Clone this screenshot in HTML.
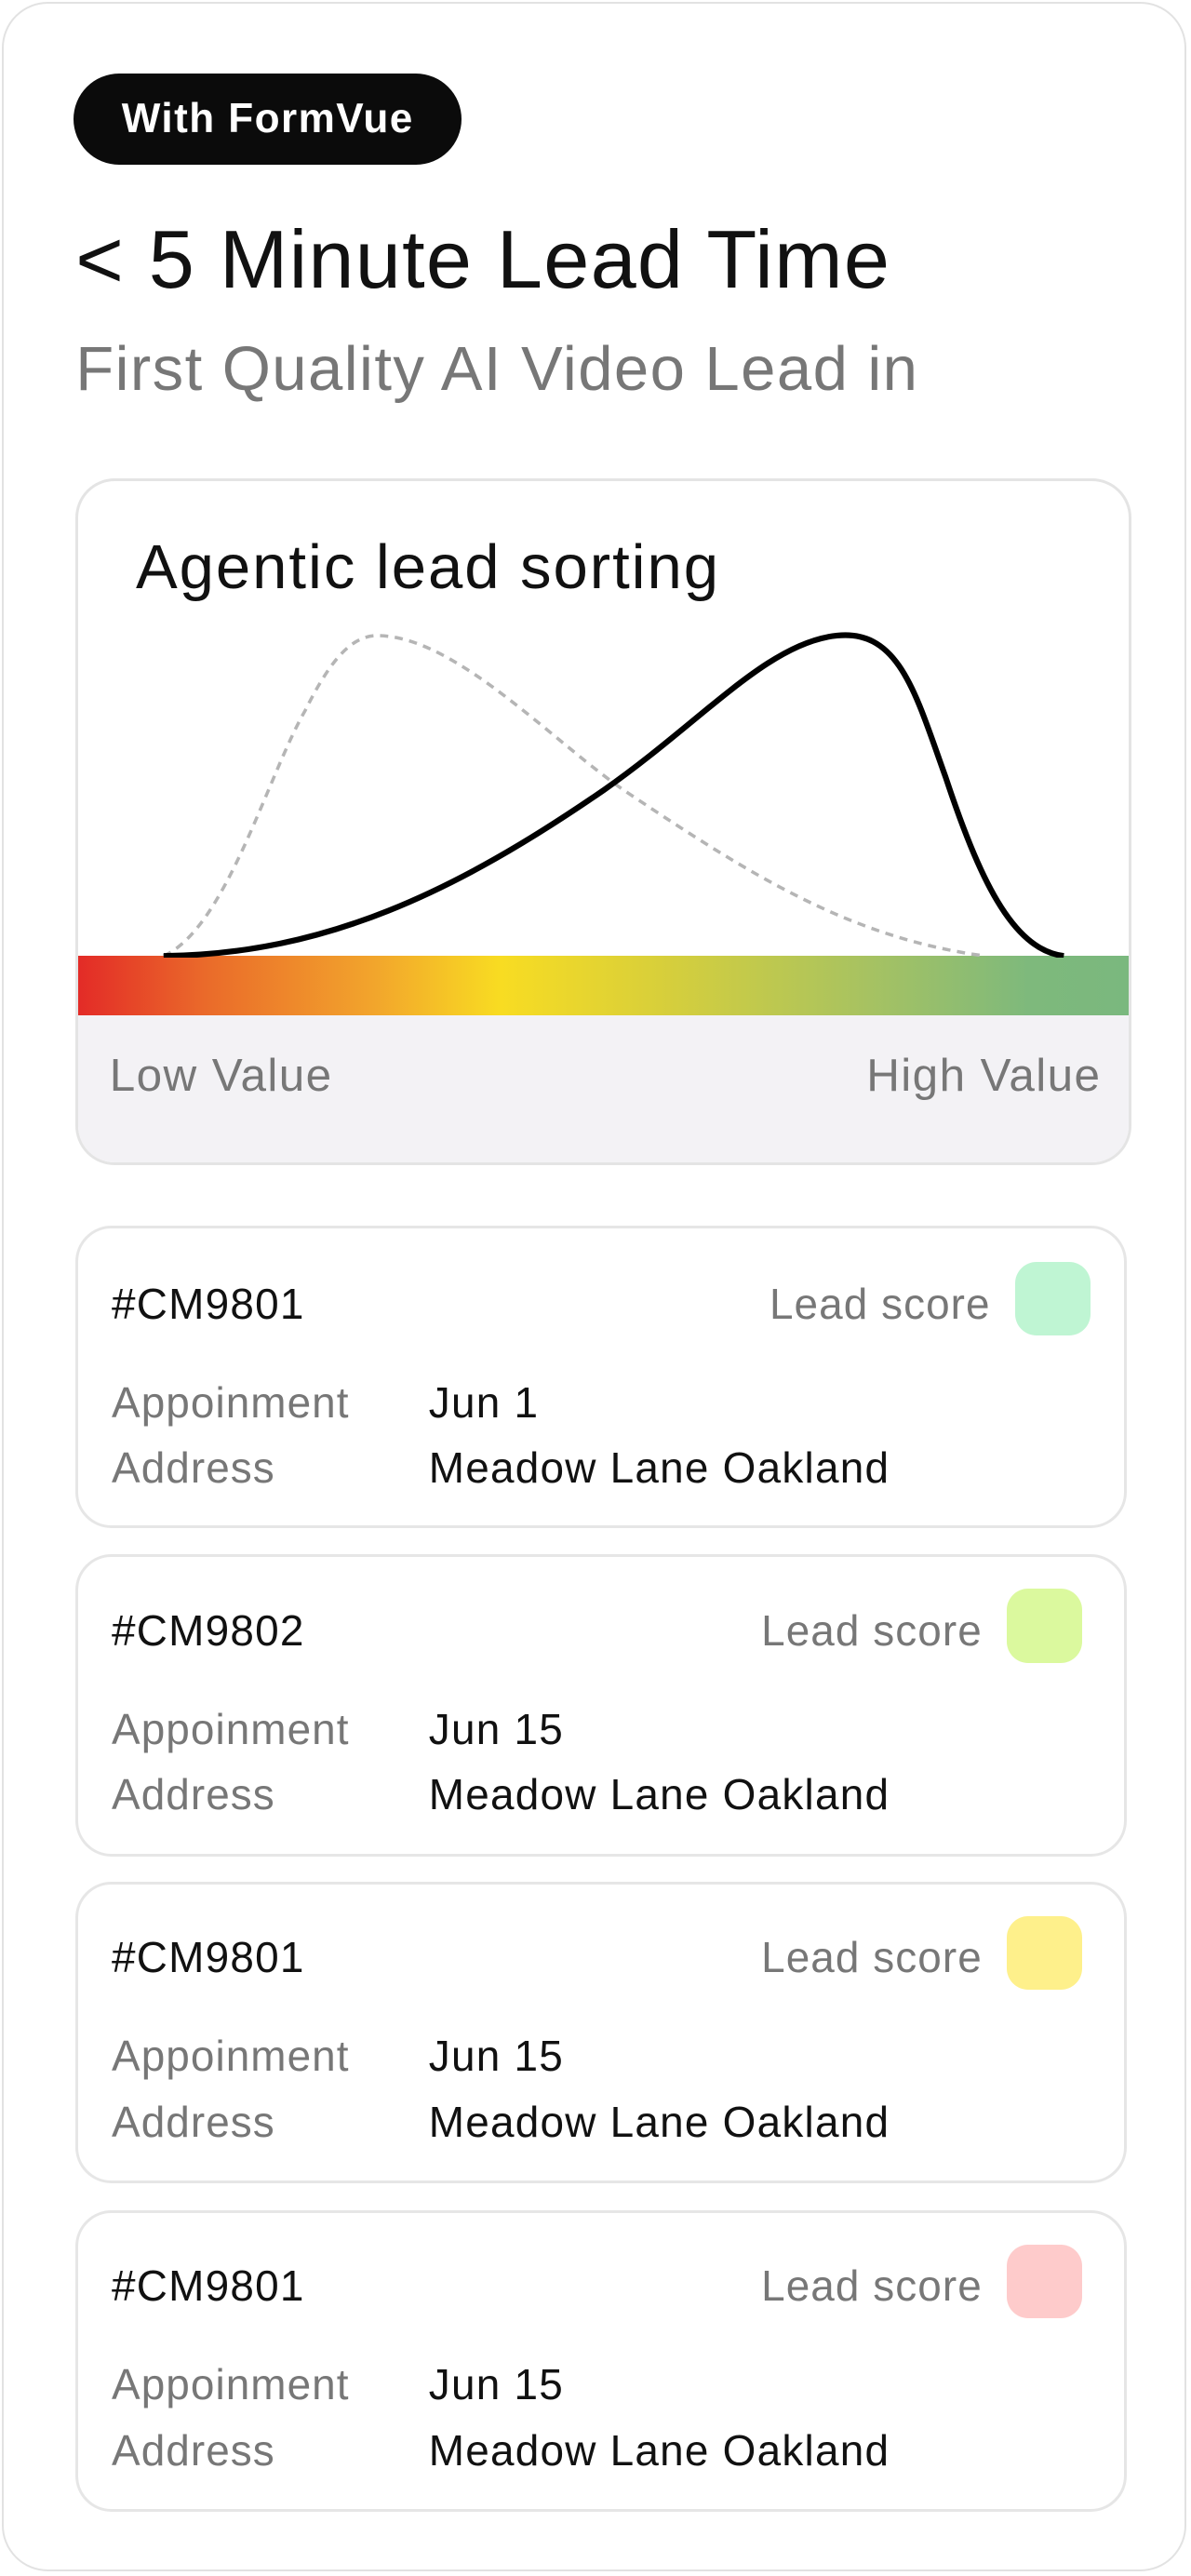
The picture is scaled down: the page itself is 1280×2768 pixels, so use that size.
<!DOCTYPE html>
<html><head><meta charset="utf-8">
<style>
html,body{margin:0;padding:0;background:#fff;width:1280px;height:2768px;overflow:hidden}
#w{zoom:1.76552;width:725px;height:1568px;position:relative;font-family:"Liberation Sans",sans-serif}
.a{position:absolute;white-space:nowrap}
.outer{left:1px;top:1px;width:721px;height:1564px;border:1.5px solid #e2e2e2;border-radius:28px;box-sizing:border-box}
.pill{left:45px;top:45px;width:236px;height:55px;background:#0b0b0b;border-radius:28px;color:#fff;font-weight:bold;font-size:25px;letter-spacing:0.8px;line-height:55px;text-align:center}
.chart{left:46px;top:291px;width:643px;height:418px;border:2px solid #e4e4e4;border-radius:24px;box-sizing:border-box;overflow:hidden;background:#fff}
.card{left:46px;width:640px;height:184px;border:2px solid #e6e6e6;border-radius:22px;box-sizing:border-box}
.t{font-size:26px;color:#111;letter-spacing:0.7px}
.g{font-size:26px;color:#777;letter-spacing:0.6px}
.sw{width:46px;height:45px;border-radius:13px}
</style></head><body><div id="w">
<div class="a outer"></div>
<div class="a pill">With FormVue</div>
<div class="a" style="left:46px;top:128px;font-size:50px;color:#111;line-height:60px;letter-spacing:0.7px">&lt; 5 Minute Lead Time</div>
<div class="a" style="left:46px;top:203px;font-size:38px;color:#777;line-height:44px;letter-spacing:0.8px">First Quality AI Video Lead in</div>
<div class="a chart">
 <div class="a" style="left:35px;top:31px;font-size:38px;color:#111;line-height:44px;letter-spacing:1.1px">Agentic lead sorting</div>
 <div class="a" style="left:0;top:289px;width:643px;height:36px;background:linear-gradient(90deg,#e32b27 0%,#ea6a2a 12%,#f2a52c 28%,#f8dc22 40%,#d8cf3a 55%,#a6c262 75%,#7eb97c 90%,#7ab87e 100%)"></div>
 <div class="a" style="left:0;top:325px;width:643px;height:95px;background:#f3f2f5"></div>
 <div class="a" style="left:19px;top:345px;font-size:28px;color:#777;line-height:34px;letter-spacing:0.8px">Low Value</div>
 <div class="a" style="right:17px;top:345px;font-size:28px;color:#777;line-height:34px;letter-spacing:0.8px">High Value</div>
 <svg class="a" style="left:0;top:0" width="643" height="290" viewBox="0 0 643 290">
  <path d="M52 289 C90 272 115 180 138 140 C152 112 165 94 182 94 C230 94 290 160 335 190 C410 240 470 278 552 289" fill="none" stroke="#b5b5b5" stroke-width="2" stroke-dasharray="5 4"/>
  <path d="M52 289 C150 288 230 250 320 188 C380 146 420 98 462 94 C500 90 510 130 528 180 C548 240 568 285 600 289" fill="none" stroke="#000" stroke-width="3.5"/>
 </svg>
</div>
<div class="a card" style="top:746px"></div>
<div class="a t" style="left:68px;top:778px">#CM9801</div>
<div class="a g" style="right:122px;top:778px">Lead score</div>
<div class="a sw" style="left:618px;top:768px;background:#bff5d3"></div>
<div class="a g" style="left:68px;top:838px">Appoinment</div><div class="a t" style="left:261px;top:838px">Jun 1</div>
<div class="a g" style="left:68px;top:878px">Address</div><div class="a t" style="left:261px;top:878px">Meadow Lane Oakland</div>

<div class="a card" style="top:946px"></div>
<div class="a t" style="left:68px;top:977px">#CM9802</div>
<div class="a g" style="right:127px;top:977px">Lead score</div>
<div class="a sw" style="left:613px;top:967px;background:#dbf99e"></div>
<div class="a g" style="left:68px;top:1037px">Appoinment</div><div class="a t" style="left:261px;top:1037px">Jun 15</div>
<div class="a g" style="left:68px;top:1077px">Address</div><div class="a t" style="left:261px;top:1077px">Meadow Lane Oakland</div>

<div class="a card" style="top:1145px"></div>
<div class="a t" style="left:68px;top:1176px">#CM9801</div>
<div class="a g" style="right:127px;top:1176px">Lead score</div>
<div class="a sw" style="left:613px;top:1166px;background:#fef08b"></div>
<div class="a g" style="left:68px;top:1236px">Appoinment</div><div class="a t" style="left:261px;top:1236px">Jun 15</div>
<div class="a g" style="left:68px;top:1276px">Address</div><div class="a t" style="left:261px;top:1276px">Meadow Lane Oakland</div>

<div class="a card" style="top:1345px"></div>
<div class="a t" style="left:68px;top:1376px">#CM9801</div>
<div class="a g" style="right:127px;top:1376px">Lead score</div>
<div class="a sw" style="left:613px;top:1366px;background:#fecbcb"></div>
<div class="a g" style="left:68px;top:1436px">Appoinment</div><div class="a t" style="left:261px;top:1436px">Jun 15</div>
<div class="a g" style="left:68px;top:1476px">Address</div><div class="a t" style="left:261px;top:1476px">Meadow Lane Oakland</div>
</div></body></html>
